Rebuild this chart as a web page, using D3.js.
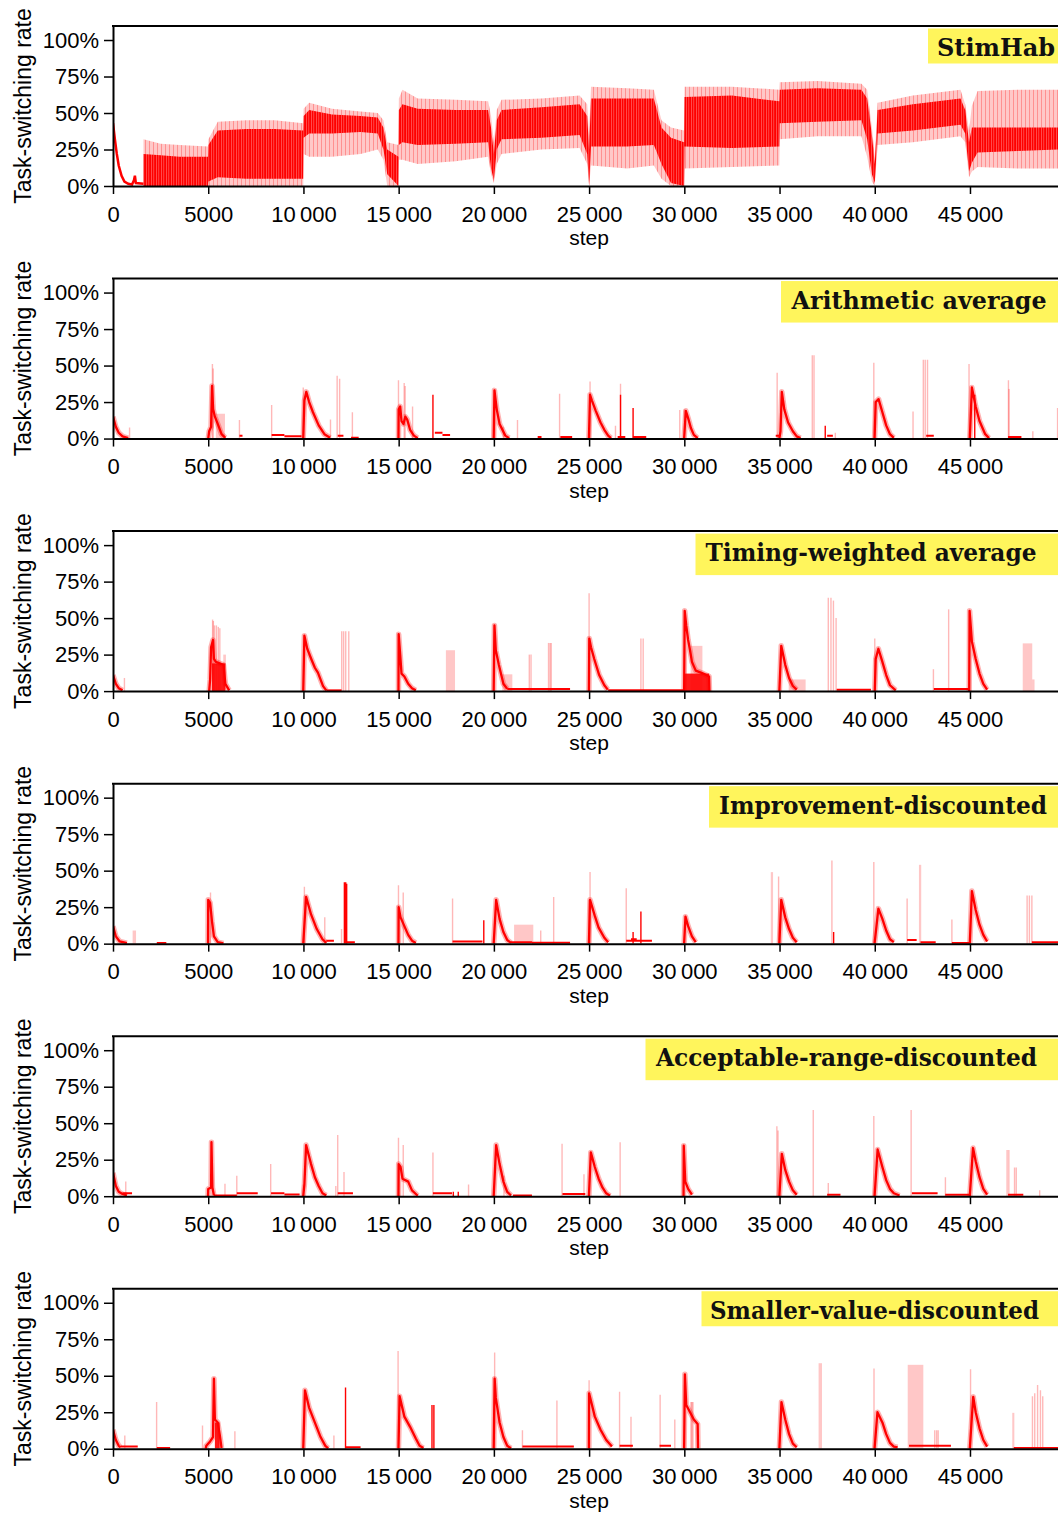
<!DOCTYPE html>
<html><head><meta charset="utf-8">
<script src="https://cdn.jsdelivr.net/npm/d3@7"></script>
<style>body{margin:0;background:#fff}</style>
</head><body><svg id="c" width="1058" height="1513"></svg>
<script>
// ---------------- DATA ----------------
const panelTitles = ["StimHab","Arithmetic average","Timing-weighted average","Improvement-discounted","Acceptable-range-discounted","Smaller-value-discounted"];
const xTicks = [0,5000,10000,15000,20000,25000,30000,35000,40000,45000];
const yTicks = [0,25,50,75,100];
const xLabel = "step";
const yLabel = "Task-switching rate";

// StimHab: initial decay and dense band [step, outerLo, coreLo, coreHi, outerHi] (%)
const stimInit = [[0,43],[100,32],[200,22],[300,14],[450,7],[600,3],[800,1.5],[1000,1],[1100,4],[1150,7],[1200,2],[1600,1.5]];
const stimBand = [
 [1600,0,0,22,32],[2500,0,0,21,29],[3500,0,0,20,28],[4990,0,0,20,27],
 [5010,0,3,28,32],[5500,0,6,38,44],[7000,0,5,39,45],[8500,0,5,39,45],[9990,0,5,38,43],
 [10010,22,33,48,53],[10300,20,36,52,57],[11500,20,36,49,53],[13000,22,37,48,51],[13900,25,36,47,50],
 [14200,18,25,40,45],[14400,0,8,25,30],[14990,0,0,20,28],
 [15010,18,28,52,60],[15200,18,30,56,66],[16000,15,28,53,60],[18000,17,29,52,59],[19700,20,30,52,58],
 [19850,8,12,40,48],[20000,2,4,22,30],[20150,15,25,45,52],[20400,22,32,52,59],[22500,25,33,54,60],
 [24500,26,35,56,62],[24900,15,22,48,56],[25000,0,0,25,35],
 [25100,14,27,60,68],[27000,12,27,60,67],[28400,14,28,60,66],[28800,5,15,40,45],[29300,0,2,33,40],[29990,0,0,30,38],
 [30010,12,27,61,68],[32500,13,26,62,68],[34990,14,27,58,66],
 [35010,32,43,66,71],[37000,34,44,67,72],[39300,34,45,66,70],[39600,20,32,60,66],[39850,3,8,35,40],[40000,0,2,15,20],
 [40150,28,36,52,57],[42000,30,38,56,62],[44500,34,42,60,66],[44750,30,36,52,56],[44950,6,10,30,38],
 [45100,10,16,40,55],[45400,13,23,40,65],[47500,12,24,40,66],[49700,12,25,40,66]
];

// Arithmetic average
const aaCurves = [
 [[0,15],[150,8],[300,4],[500,1.5],[800,0.3]],
 [[5000,0],[5050,5],[5150,8],[5200,36],[5260,20],[5350,15],[5500,10],[5700,3],[5900,0.5]],
 [[9990,0],[10050,26],[10150,32],[10300,25],[10500,18],[10800,9],[11100,3],[11400,0.5]],
 [[14990,0],[15000,20],[15080,22],[15150,12],[15250,10],[15350,15],[15450,13],[15600,6],[15800,2],[16000,0.3]],
 [[19990,0],[20030,33],[20150,20],[20300,10],[20600,2],[20800,0.3]],
 [[24990,0],[25050,30],[25150,26],[25350,19],[25600,11],[25800,6],[26000,2],[26150,0.3]],
 [[29990,0],[30080,19],[30200,14],[30350,7],[30500,2.5],[30700,0.3]],
 [[34990,0],[35050,5],[35120,32],[35250,20],[35450,11],[35700,5],[35900,1.5],[36100,0.3]],
 [[39990,0],[40050,25],[40200,27],[40400,18],[40600,9],[40800,3],[41000,0.5]],
 [[44990,0],[45100,35],[45300,22],[45500,12],[45800,3],[46000,0.3]]
];
const aaLevels = [[6640,6800,2],[8330,9000,2.5],[9000,9900,1.5],[11800,12100,2],[12500,12900,0.5],[16900,17300,4],[17300,17700,2.5],[22300,22500,1],[23490,24110,1],[26500,26900,1],[27300,28000,1],[34800,35000,2],[37500,37800,2],[42700,43100,2],[47000,47700,1]];
const aaSpikesLight = [[870,7.6],[5220,51],[5260,48],[6640,12.7],[8330,23],[9990,35],[11420,13],[11770,43],[11900,41],[12570,18],[14990,40],[15290,38],[15340,36],[15730,22],[20050,34],[20500,8],[21240,12.7],[23450,30.7],[25050,39],[26385,8.8],[26650,37.6],[29760,19.6],[30000,20],[34875,45],[36720,57],[36810,57],[37930,4],[39950,52],[42010,18.5],[42550,54],[42650,54],[42770,54],[44950,51],[47020,40],[48300,5],[49600,21]];
const aaSpikesDark = [[16800,30],[27310,21],[37400,8.8],[26650,30],[45250,30]];
const aaBlocksLight = [[5400,5880,17],[47000,47100,34]];
const aaBlocksDark = [];

// Timing-weighted average
const twCurves = [
 [[0,11],[150,5],[300,2],[500,0.5]],
 [[5050,0],[5100,8],[5150,30],[5250,35],[5300,22],[5400,20],[5600,19],[5800,18],[5900,5],[6100,0.5]],
 [[9990,0],[10050,38],[10200,29],[10410,22],[10600,16],[10760,12.6],[11030,3.4],[11200,0.5]],
 [[14990,0],[15000,39],[15080,25],[15150,12],[15300,10],[15500,5],[15700,2],[15900,0.5]],
 [[19990,0],[20030,45],[20100,28],[20260,18],[20500,5],[20700,1.5]],
 [[24990,0],[25010,36],[25100,30],[25270,22],[25530,11],[25800,4],[25980,1]],
 [[29990,0],[30020,55],[30100,45],[30200,35],[30300,28],[30400,20],[30600,14],[31000,12],[31300,10],[31320,0]],
 [[34990,0],[35090,31],[35300,18],[35500,9],[35700,3.5],[35900,1]],
 [[40000,0],[40050,22],[40190,29],[40400,20],[40600,11],[40800,4],[41100,0.5]],
 [[44960,0],[44980,55],[45100,34],[45300,22],[45500,12],[45700,5],[45900,1]]
];
const twLevels = [[11200,12000,0.5],[20700,24000,1.5],[26000,30000,0.5],[38000,39800,1],[43100,44960,1.5]];
const twSpikesLight = [[600,9],[5230,49],[5270,48],[5330,45],[5430,45],[5530,44],[5610,43],[12010,41],[12110,41],[12220,41],[12380,41],[21860,25],[21950,25],[22870,33],[22950,33],[23010,33],[25000,67],[27720,36],[27840,36],[37560,64],[37700,64],[37830,62],[37970,50],[40000,36],[43080,15],[43880,56]];
const twSpikesDark = [];
const twBlocksLight = [[5790,5930,25],[17480,17960,28],[20440,20970,11.5],[30330,30950,31],[35480,36370,8],[47770,48270,32.7],[48270,48390,8]];
const twBlocksDark = [[5200,5900,19],[30000,31300,12]];

// Improvement-discounted
const idCurves = [
 [[0,12],[150,5],[350,1.5],[730,0.3]],
 [[4990,0],[5000,30],[5100,28],[5200,15],[5300,5],[5500,1],[5800,0.2]],
 [[9990,0],[10140,32],[10400,20],[10700,10],[11000,3],[11200,0.5]],
 [[14990,0],[15000,25],[15100,18],[15300,12],[15500,6],[15700,2],[15900,0.5]],
 [[19990,0],[20120,30],[20300,17],[20500,8],[20700,2.5],[20900,0.5]],
 [[24990,0],[25050,30],[25300,19],[25500,11],[25800,4],[26000,1]],
 [[29990,0],[30060,18.5],[30200,12],[30400,5],[30600,1]],
 [[34990,0],[35090,30],[35300,18],[35500,10],[35700,4],[35900,1]],
 [[39990,0],[40190,24],[40400,17],[40600,9],[40800,3],[41000,1]],
 [[44990,0],[45100,36],[45300,23],[45500,13],[45700,6],[45900,1.5]]
];
const idLevels = [[2300,2800,0.5],[11200,11600,2],[12270,12700,1],[17830,19400,1.5],[20900,22000,1],[22000,24000,0.7],[26950,28300,2],[27200,27500,3],[41700,42200,2.5],[42400,43200,1],[44050,44990,0.5],[48250,49700,1]];
const idSpikesLight = [[5120,35],[10050,39],[11120,18],[12000,10],[14990,40],[15240,35],[17830,31],[22460,9],[23140,32],[25050,49],[25000,30],[26950,38],[34950,46],[37750,57],[39950,56],[41700,31],[44050,16.6],[48000,33],[48120,33],[48250,33]];
const idSpikesDark = [[12150,42],[12220,42],[12270,41],[19470,16],[27310,8],[27720,22],[37840,8]];
const idBlocksLight = [[1030,1210,9],[21060,22070,13],[34540,34660,49],[42320,42440,54]];
const idBlocksDark = [];

// Acceptable-range-discounted
const arCurves = [
 [[0,16],[150,7],[300,3],[500,1.5],[730,0.5]],
 [[4990,0],[5000,5],[5150,6],[5170,37],[5220,6],[5300,0.5]],
 [[9990,0],[10050,8],[10140,35],[10400,22],[10600,13],[10800,7],[11000,2],[11200,0.5]],
 [[14990,0],[15000,22],[15100,20],[15200,12],[15500,10],[15700,4],[16000,0.3]],
 [[19990,0],[20120,35],[20300,22],[20500,10],[20700,3],[20900,0.5]],
 [[24990,0],[25090,30],[25300,20],[25500,12],[25700,6],[25900,2],[26100,0.3]],
 [[29960,0],[29970,34.6],[30050,10],[30200,5],[30400,1]],
 [[34990,0],[35120,29],[35300,18],[35500,10],[35700,4],[35900,1]],
 [[39990,0],[40150,32],[40400,20],[40600,11],[40800,5],[41000,2],[41300,0.5]],
 [[44990,0],[45160,33],[45300,24],[45500,13],[45700,5],[45900,1]]
];
const arLevels = [[500,1000,2],[5300,6500,0.5],[6500,7600,2],[8300,9000,2],[9000,9800,1.2],[11800,12600,2],[16800,17800,2],[21000,22000,0.5],[23600,24800,1.5],[37500,38200,1],[41950,43300,2],[43700,44990,1],[47000,47800,1]];
const arSpikesLight = [[670,10],[5880,8.5],[6500,14],[8280,22],[9990,8],[11700,7],[11800,42],[12130,16.6],[14990,40],[15240,35],[16800,30],[18670,8],[20530,14],[23580,36],[24730,15],[26630,37],[34860,48],[34920,45],[36770,59],[37560,9],[39950,55],[41910,59],[43710,13],[46950,31.6],[47040,31.6],[47340,19.6],[47430,19.6],[48660,4]];
const arSpikesDark = [[17870,3],[18130,3]];
const arBlocksLight = [];
const arBlocksDark = [];

// Smaller-value-discounted
const svCurves = [
 [[0,13],[150,6],[300,2],[400,1]],
 [[4870,0],[4900,2],[5100,5],[5250,8],[5300,48],[5350,20],[5500,18],[5600,10],[5700,0.5]],
 [[9990,0],[10080,40],[10300,28],[10540,20],[10900,8],[11150,2],[11300,0.3]],
 [[14990,0],[15050,36],[15300,22],[15600,15],[15900,7],[16100,2],[16300,0.5]],
 [[19990,0],[20040,48],[20100,35],[20300,18],[20500,8],[20700,2],[20900,0.3]],
 [[24990,0],[25000,38],[25300,22],[25600,13],[25900,6],[26200,1.5]],
 [[29990,0],[30030,51],[30100,30],[30300,25],[30500,20],[30700,17],[30720,0]],
 [[34990,0],[35100,32],[35300,20],[35500,10],[35700,3.5],[35900,1]],
 [[39990,0],[40140,25],[40400,18],[40600,10],[40800,4],[41000,1.5],[41200,1]],
 [[44990,0],[45170,35.6],[45300,25],[45500,14],[45700,6],[45900,1.5]]
];
const svLevels = [[400,1300,1.5],[2300,3000,0.5],[12200,13000,1],[21500,24200,1.5],[26600,27300,2],[28700,29300,2],[41800,44000,2],[47300,49700,0.5]];
const svSpikesLight = [[620,9],[2290,32],[4700,16],[6400,12],[11600,9],[14970,67],[20040,66],[21500,12.6],[23310,33],[25000,47],[26600,39],[27200,22],[28730,37],[29500,20],[30400,32],[39960,55],[43150,12.6],[43250,12.6],[43330,12.6],[45030,54.5],[48280,36],[48400,38],[48550,43.7],[48700,40],[48820,36]];
const svSpikesDark = [[12210,42],[16750,30],[16850,30]];
const svBlocksLight = [[37050,37230,58.6],[41730,42550,57.5],[47220,47330,24.6],[30300,30500,32]];
const svBlocksDark = [[5350,5600,18]];

// ---------------- LAYOUT ----------------
const W = 1058, L = 113, PH = 160, GAP = 252.55, TOP0 = 26;
const x = d3.scaleLinear().domain([0, 50000]).range([L, L + 50000 * 0.019044]);
const RED = "#ff0000";
const boxes = [
  {left:928, tx:937, tl:118, desc:false},
  {left:781, tx:791.5, tl:255, desc:true},
  {left:695.5, tx:705.5, tl:331, desc:true},
  {left:709, tx:719, tl:328, desc:true},
  {left:645.5, tx:656, tl:381, desc:true},
  {left:701.5, tx:710, tl:329, desc:false}
];
const panels = [
  {band: stimBand, init: stimInit},
  {curves: aaCurves, levels: aaLevels, sl: aaSpikesLight, sd: aaSpikesDark, bl: aaBlocksLight, bd: aaBlocksDark},
  {curves: twCurves, levels: twLevels, sl: twSpikesLight, sd: twSpikesDark, bl: twBlocksLight, bd: twBlocksDark},
  {curves: idCurves, levels: idLevels, sl: idSpikesLight, sd: idSpikesDark, bl: idBlocksLight, bd: idBlocksDark},
  {curves: arCurves, levels: arLevels, sl: arSpikesLight, sd: arSpikesDark, bl: arBlocksLight, bd: arBlocksDark},
  {curves: svCurves, levels: svLevels, sl: svSpikesLight, sd: svSpikesDark, bl: svBlocksLight, bd: svBlocksDark}
];

const svg = d3.select("#c");
const defs = svg.append("defs");
// striated fill to mimic dense vertical sample lines
const pat = defs.append("pattern").attr("id", "stripes").attr("patternUnits", "userSpaceOnUse")
  .attr("width", 5).attr("height", 10);
pat.append("rect").attr("width", 5).attr("height", 10).attr("fill", RED);
pat.append("rect").attr("x", 1.2).attr("width", 0.7).attr("height", 10).attr("fill", "#ff6a6a");
pat.append("rect").attr("x", 3.6).attr("width", 0.5).attr("height", 10).attr("fill", "#ff8a8a");
const pat2 = defs.append("pattern").attr("id", "stripesLight").attr("patternUnits", "userSpaceOnUse")
  .attr("width", 4).attr("height", 10);
pat2.append("rect").attr("width", 4).attr("height", 10).attr("fill", "#ffc8c8");
pat2.append("rect").attr("x", 1).attr("width", 1).attr("height", 10).attr("fill", "#ff9090");

const fmtX = d => d >= 10000 ? d3.format("d")(Math.floor(d/1000)) + "\u2009" + d3.format("03d")(d % 1000) : String(d);

panels.forEach((p, i) => {
  const T = TOP0 + GAP * i;
  const y = d3.scaleLinear().domain([0, 109.6]).range([T + PH, T]);
  const g = svg.append("g");
  const cid = "clip" + i;
  svg.append("clipPath").attr("id", cid).append("rect")
    .attr("x", L).attr("y", T).attr("width", W - L).attr("height", PH);
  const plot = g.append("g").attr("clip-path", `url(#${cid})`);

  if (p.band) {
    const outer = d3.area().x(d => x(d[0])).y0(d => y(d[1])).y1(d => y(d[4]));
    const core = d3.area().x(d => x(d[0])).y0(d => y(d[2])).y1(d => y(d[3]));
    plot.append("path").datum(p.band).attr("d", outer).attr("fill", "url(#stripesLight)");
    plot.append("path").datum(p.band).attr("d", core).attr("fill", "url(#stripes)");
    const ln = d3.line().x(d => x(d[0])).y(d => y(d[1]));
    plot.append("path").datum(p.init).attr("d", ln).attr("fill", "none").attr("stroke", RED).attr("stroke-width", 2.5);
  } else {
    plot.selectAll(".bl").data(p.bl).enter().append("rect")
      .attr("x", d => x(d[0])).attr("width", d => Math.max(1, x(d[1]) - x(d[0])))
      .attr("y", d => y(d[2])).attr("height", d => y(0) - y(d[2]))
      .attr("fill", RED).attr("fill-opacity", 0.22);
    plot.selectAll(".bd").data(p.bd).enter().append("rect")
      .attr("x", d => x(d[0])).attr("width", d => Math.max(1, x(d[1]) - x(d[0])))
      .attr("y", d => y(d[2])).attr("height", d => y(0) - y(d[2]))
      .attr("fill", RED).attr("fill-opacity", 0.9);
    plot.selectAll(".sl").data(p.sl).enter().append("line")
      .attr("x1", d => x(d[0])).attr("x2", d => x(d[0]))
      .attr("y1", y(0)).attr("y2", d => y(d[1]))
      .attr("stroke", RED).attr("stroke-opacity", 0.28).attr("stroke-width", 1.4);
    plot.selectAll(".lv").data(p.levels).enter().append("line")
      .attr("x1", d => x(d[0])).attr("x2", d => x(d[1]))
      .attr("y1", d => y(d[2])).attr("y2", d => y(d[2]))
      .attr("stroke", RED).attr("stroke-width", 2);
    const ln = d3.line().x(d => x(d[0])).y(d => y(d[1]));
    p.curves.forEach(c => {
      plot.append("path").datum(c).attr("d", ln).attr("fill", "none")
        .attr("stroke", RED).attr("stroke-opacity", 0.3).attr("stroke-width", 5.5).attr("stroke-linejoin", "round");
      plot.append("path").datum(c).attr("d", ln).attr("fill", "none")
        .attr("stroke", RED).attr("stroke-width", 2.3).attr("stroke-linejoin", "round");
    });
    plot.selectAll(".sd").data(p.sd).enter().append("line")
      .attr("x1", d => x(d[0])).attr("x2", d => x(d[0]))
      .attr("y1", y(0)).attr("y2", d => y(d[1]))
      .attr("stroke", RED).attr("stroke-width", 1.4);
  }

  // axes
  const ya = g.append("g").attr("transform", `translate(${L},0)`)
    .call(d3.axisLeft(y).tickValues(yTicks).tickSize(9).tickSizeOuter(0).tickPadding(5).tickFormat(d => d + "%"));
  const xa = g.append("g").attr("transform", `translate(0,${T + PH})`)
    .call(d3.axisBottom(x).tickValues(xTicks).tickSize(8).tickSizeOuter(0).tickPadding(12).tickFormat(fmtX));
  [ya, xa].forEach(a => {
    a.select(".domain").attr("stroke", "#000").attr("stroke-width", 2);
    a.selectAll(".tick line").attr("stroke", "#000").attr("stroke-width", 1.5);
    a.selectAll("text").attr("font-family", "'Liberation Sans', Arial, sans-serif").attr("font-size", 22).attr("fill", "#000");
  });
  g.append("line").attr("x1", L - 1).attr("x2", W).attr("y1", T).attr("y2", T)
    .attr("stroke", "#000").attr("stroke-width", 2);

  g.append("text").attr("transform", `translate(30.5,${T + PH / 2}) rotate(-90)`)
    .attr("text-anchor", "middle").attr("font-family", "'Liberation Sans', Arial, sans-serif")
    .attr("font-size", 23).text(yLabel);
  g.append("text").attr("x", x(25000)).attr("y", T + PH + 59)
    .attr("text-anchor", "middle").attr("font-family", "'Liberation Sans', Arial, sans-serif")
    .attr("font-size", 21).text(xLabel);

  const b = boxes[i];
  g.append("rect").attr("x", b.left).attr("y", T + 2.5).attr("width", W - b.left + 5)
    .attr("height", b.desc ? 41.5 : 35).attr("fill", "#fff55c");
  g.append("text").attr("x", b.tx).attr("y", T + 30)
    .attr("font-family", "'DejaVu Serif', 'Liberation Serif', serif").attr("font-weight", "bold")
    .attr("font-size", 24).attr("textLength", b.tl).attr("lengthAdjust", "spacingAndGlyphs")
    .attr("fill", "#111").text(panelTitles[i]);
});
</script>
</body></html>
